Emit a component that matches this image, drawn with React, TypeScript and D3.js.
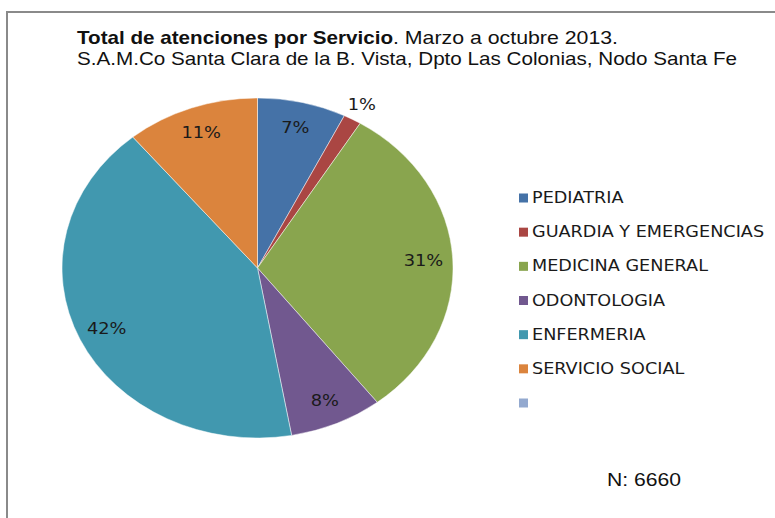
import React, { useEffect, useRef } from 'react';
import * as d3 from 'd3';

const servicios = ['PEDIATRIA', 'GUARDIA Y EMERGENCIAS', 'MEDICINA GENERAL', 'ODONTOLOGIA', 'ENFERMERIA', 'SERVICIO SOCIAL'];
const atenciones = [488, 98, 2045, 513, 2783, 733];
const colores = ['#4572A7', '#AA4643', '#89A54E', '#71588F', '#4198AF', '#DB843D'];
const leyendaExtra = { label: '', color: '#93A9CF' };

const App: React.FC = () => {
  const svgRef = useRef<SVGSVGElement>(null);

  useEffect(() => {
    if (!svgRef.current) return;
    const svg = d3.select(svgRef.current);
    svg.selectAll('*').remove();

    const W = 775, H = 518;
    svg.attr('width', W).attr('height', H);

    // frame (only left/top visible in the original crop)
    svg.append('rect')
      .attr('x', 7).attr('y', 12)
      .attr('width', 900).attr('height', 700)
      .attr('fill', '#fff')
      .attr('stroke', '#8a8a8a')
      .attr('stroke-width', 2);

    // title
    const titleFont = '"Liberation Sans", Arial, sans-serif';
    svg.append('text')
      .attr('x', 77).attr('y', 44)
      .attr('font-family', titleFont).attr('font-size', 19).attr('font-weight', 'bold')
      .attr('textLength', 316).attr('lengthAdjust', 'spacingAndGlyphs')
      .attr('fill', '#111')
      .text('Total de atenciones por Servicio');
    svg.append('text')
      .attr('x', 393).attr('y', 44)
      .attr('font-family', titleFont).attr('font-size', 19)
      .attr('textLength', 225).attr('lengthAdjust', 'spacingAndGlyphs')
      .attr('fill', '#111')
      .text('. Marzo a octubre 2013.');
    svg.append('text')
      .attr('x', 77).attr('y', 65)
      .attr('font-family', titleFont).attr('font-size', 19)
      .attr('textLength', 660).attr('lengthAdjust', 'spacingAndGlyphs')
      .attr('fill', '#111')
      .text('S.A.M.Co Santa Clara de la B. Vista, Dpto Las Colonias, Nodo Santa Fe');

    // pie (elliptical, as in the stretched original)
    const cx = 257.5, cy = 268, rx = 195.5, ry = 170;
    const total = d3.sum(atenciones);
    const data = servicios.map((s, i) => ({ s, v: atenciones[i], c: colores[i] }));
    const pie = d3.pie<typeof data[number]>().sort(null).value(d => d.v);
    const arcs = pie(data);
    const arc = d3.arc<d3.PieArcDatum<typeof data[number]>>().innerRadius(0).outerRadius(rx);

    const g = svg.append('g')
      .attr('transform', `translate(${cx},${cy}) scale(1,${ry / rx})`);
    g.selectAll('path')
      .data(arcs)
      .enter()
      .append('path')
      .attr('d', arc as any)
      .attr('fill', d => d.data.c)
      .attr('stroke', '#ffffff')
      .attr('stroke-opacity', 0.6)
      .attr('stroke-width', 0.8)
      .attr('vector-effect', 'non-scaling-stroke');

    const labelFont = '"DejaVu Sans", Verdana, sans-serif';
    svg.selectAll('text.pct')
      .data(arcs)
      .enter()
      .append('text')
      .classed('pct', true)
      .attr('transform', d => {
        const a = (d.startAngle + d.endAngle) / 2;
        const r = d.data.v / total < 0.03 ? 1.1 : 0.85;
        const x = cx + r * rx * Math.sin(a);
        const y = cy - r * ry * Math.cos(a);
        return `translate(${x},${y}) scale(1.15,1)`;
      })
      .attr('text-anchor', 'middle')
      .attr('dominant-baseline', 'central')
      .attr('font-family', labelFont)
      .attr('font-size', 15.5)
      .attr('fill', '#1a1a1a')
      .text(d => `${Math.round((d.data.v / total) * 100)}%`);

    // legend
    const legendItems = [...data.map(d => ({ label: d.s, color: d.c })), leyendaExtra];
    const ly = d3.scalePoint<number>()
      .domain(legendItems.map((_, i) => i))
      .range([198, 403]);
    const lg = svg.append('g');
    const row = lg.selectAll('g')
      .data(legendItems)
      .enter()
      .append('g')
      .attr('transform', (_, i) => `translate(519,${ly(i)})`);
    row.append('rect')
      .attr('x', 0).attr('y', -4.5)
      .attr('width', 9).attr('height', 9)
      .attr('fill', d => d.color);
    row.append('text')
      .attr('transform', 'translate(13,0) scale(1.16,1)')
      .attr('dominant-baseline', 'central')
      .attr('font-family', labelFont)
      .attr('font-size', 15.2)
      .attr('fill', '#1a1a1a')
      .text(d => d.label);

    // N
    svg.append('text')
      .attr('x', 607).attr('y', 486)
      .attr('font-family', titleFont).attr('font-size', 19)
      .attr('textLength', 74).attr('lengthAdjust', 'spacingAndGlyphs')
      .attr('fill', '#111')
      .text(`N: ${total}`);
  }, []);

  return (
    <div style={{ position: 'absolute', left: 0, top: 0 }}>
      <svg ref={svgRef} style={{ display: 'block' }}></svg>
    </div>
  );
};

export default App;
